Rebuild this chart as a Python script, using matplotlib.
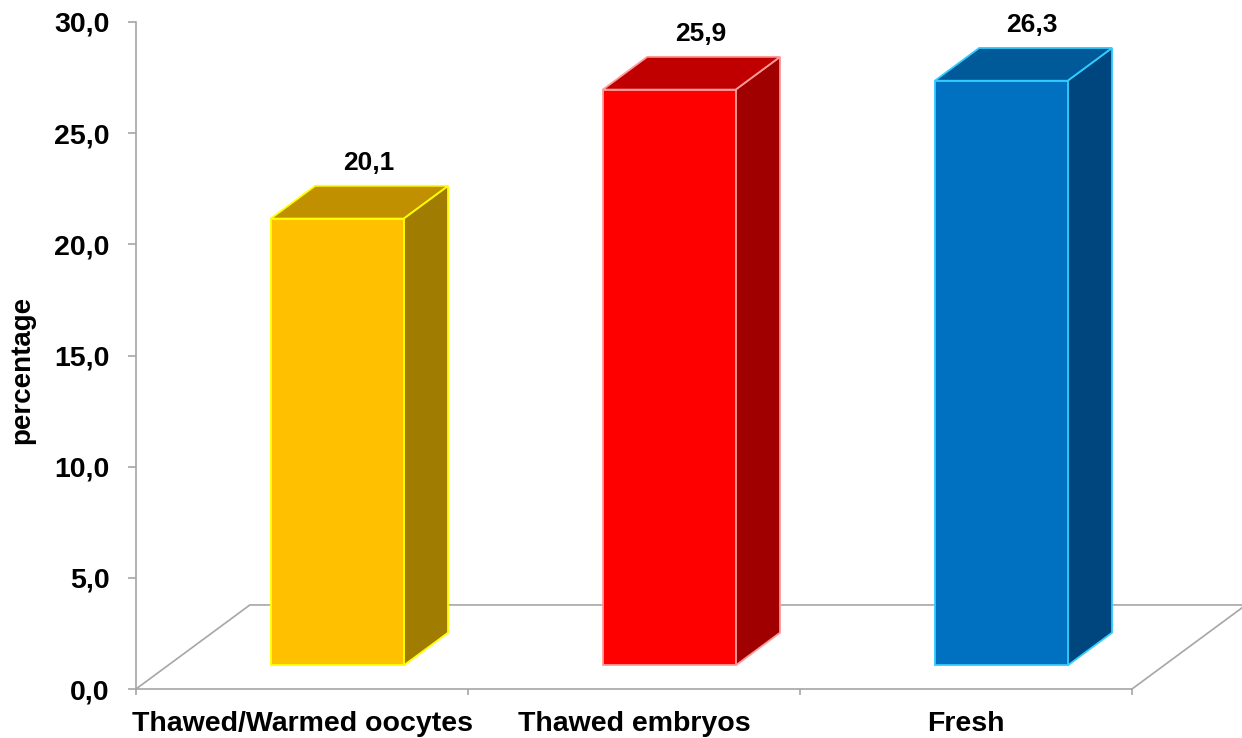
import numpy as np
import matplotlib
matplotlib.use('Agg')
import matplotlib.pyplot as plt
from matplotlib.patches import Polygon

# Data
categories = ['Thawed/Warmed oocytes', 'Thawed embryos', 'Fresh']
values = [20.1, 25.9, 26.3]
yticks = [0, 5, 10, 15, 20, 25, 30]

# Face colours (front, top, side, edge)
front_col = ['#FFC000', '#FF0000', '#0070C0']
top_col = ['#C09000', '#C00000', '#005A9A']
side_col = ['#A07C00', '#A00000', '#00467E']
edge_col = ['#FFFF00', '#FF9A9A', '#33CCFF']

plt.rcParams['font.family'] = ['Liberation Sans', 'DejaVu Sans']
plt.rcParams['font.weight'] = 'bold'

W, H = 1242, 738
fig = plt.figure(figsize=(W/100., H/100.), dpi=100, facecolor='w')
ax = fig.add_axes([136./W, 49./H, 996./W, 667./H])
ax.set_xlim(0, 3)
ax.set_ylim(0, 30)

# Floor depth (data units)
ddx = 0.343
ddy = 3.78
gray = '#A6A6A6'
floor = [(0, 0), (ddx, ddy), (3+ddx, ddy), (3, 0)]
fx, fy = zip(*floor)
ax.plot(fx, fy, color=gray, lw=1.2, clip_on=False, zorder=1)

# Bars with depth from f0 to f1
f0, f1 = 0.28, 0.67
bw = 0.4
for i, v in enumerate(values):
    x0 = i+0.31
    x1 = x0+bw
    sx0, sy0 = f0*ddx, f0*ddy
    sx1, sy1 = f1*ddx, f1*ddy
    front = [(x0+sx0, sy0), (x1+sx0, sy0), (x1+sx0, sy0+v), (x0+sx0, sy0+v)]
    top = [(x0+sx0, sy0+v), (x1+sx0, sy0+v), (x1+sx1, sy1+v), (x0+sx1, sy1+v)]
    side = [(x1+sx0, sy0), (x1+sx1, sy1), (x1+sx1, sy1+v), (x1+sx0, sy0+v)]
    for pts, fc in [(side, side_col[i]), (top, top_col[i]), (front, front_col[i])]:
        ax.add_patch(Polygon(pts, closed=True, fc=fc, ec=edge_col[i], lw=1.3, clip_on=False, zorder=3, joinstyle='miter'))
    xl = (x0+x1)/2.+sx0+0.7*(sx1-sx0)
    ax.annotate('{:.1f}'.format(v).replace('.', ','), xy=(xl, sy1+v), xytext=(0, 8), textcoords='offset points',
                ha='center', va='bottom', fontsize=19, fontweight='bold', color='k', zorder=5, annotation_clip=False)

for s in ['top', 'right']:
    ax.spines[s].set_visible(False)
for s in ['left', 'bottom']:
    ax.spines[s].set_color(gray)
    ax.spines[s].set_linewidth(1.2)
ax.patch.set_alpha(0)

ax.set_yticks(yticks)
ax.set_yticklabels(['{:.1f}'.format(t).replace('.', ',') for t in yticks])
ax.tick_params(axis='y', length=6, width=1.2, color=gray, pad=13, labelsize=20.5)
ax.set_xticks([0, 1, 2, 3])
ax.set_xticklabels([])
ax.tick_params(axis='x', which='major', length=4.5, width=1.2, color=gray)
ax.set_xticks([0.5, 1.5, 2.5], minor=True)
ax.set_xticklabels(categories, minor=True)
ax.tick_params(axis='x', which='minor', length=0, pad=16, labelsize=20.5)

fig.text(22./W, 1-370./H, 'percentage', rotation=90, ha='center', va='center', fontsize=20, fontweight='bold')

plt.savefig('out.png', dpi=100, facecolor='w')
